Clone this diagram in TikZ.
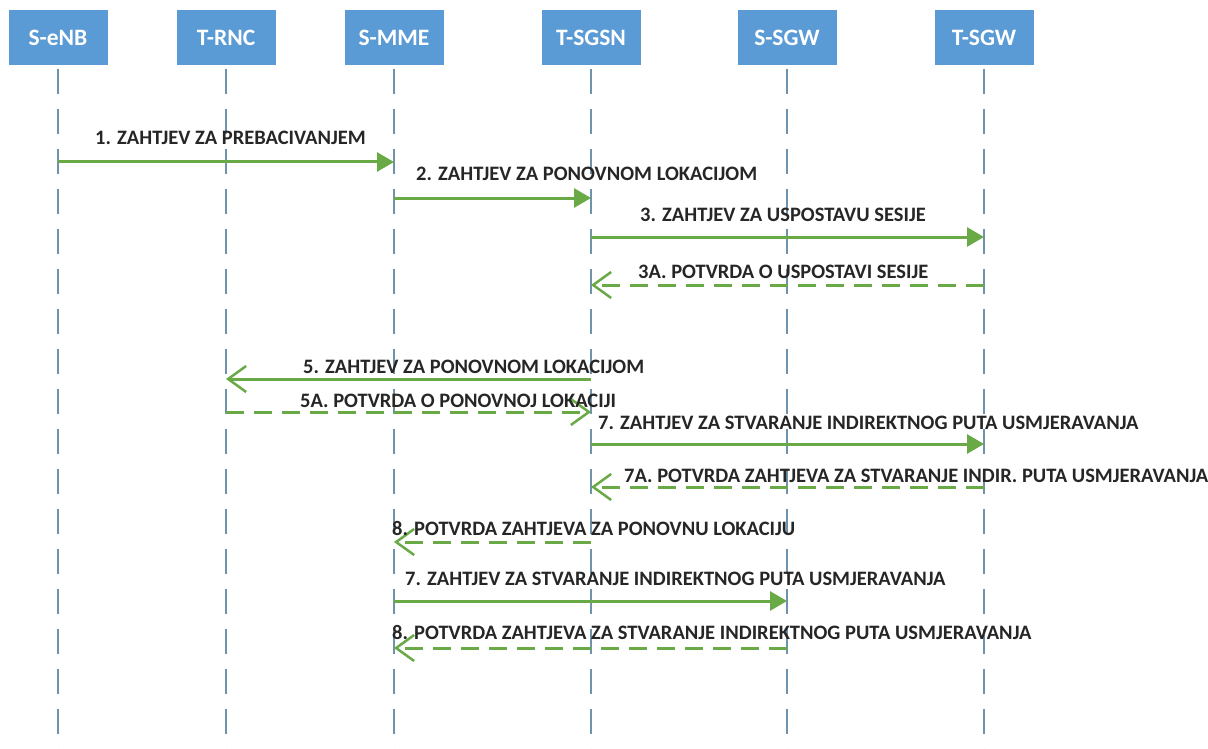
\documentclass[tikz,border=0pt]{standalone}
\usepackage{fontspec}
\setmainfont{Carlito}
\usetikzlibrary{arrows.meta}
\definecolor{boxblue}{HTML}{5B9BD5}
\definecolor{lifeg}{HTML}{6F93AB}
\definecolor{arrg}{HTML}{6AAA46}
\tikzset{
  ent/.style={fill=boxblue, text=white, font=\bfseries\fontsize{23.5}{25}\selectfont, minimum width=99pt, minimum height=55pt, inner sep=0pt},
  life/.style={draw=lifeg, line width=2pt, dash pattern=on 25pt off 15pt},
  req/.style={draw=arrg, line width=3pt, -{Triangle[length=17pt,width=19pt]}},
  reqo/.style={draw=arrg, line width=3pt, -{Straight Barb[length=18pt,width=26pt,line width=2.5pt]}},
  resp/.style={draw=arrg, line width=3pt, dash pattern=on 18pt off 10pt, -{Straight Barb[length=18pt,width=26pt,line width=2.5pt]}},
  lbl/.style={anchor=base west, inner sep=0pt, font=\bfseries\fontsize{20.5}{22}\selectfont, text=black!85}
}
\begin{document}
\begin{tikzpicture}[x=1pt,y=-1pt]
\useasboundingbox (0,0) rectangle (1208,749);
\fill[white] (0,0) rectangle (1208,749);
% entities
\node[ent] (enb) at (58,38) {S-eNB};
\node[ent] (rnc) at (226,38) {T-RNC};
\node[ent] (mme) at (394,38) {S-MME};
\node[ent] (sgsn) at (591,38) {T-SGSN};
\node[ent] (ssgw) at (787,38) {S-SGW};
\node[ent] (tsgw) at (984,38) {T-SGW};
% lifelines
\foreach \n in {enb,rnc,mme,sgsn,ssgw,tsgw}{
  \coordinate (\n-top) at ([yshift=-3pt]\n.south);
  \coordinate (\n-bot) at (\n.south |- 0,749);
  \draw[life] (\n-top) -- (\n-bot);
}
% message points
\coordinate (m1a) at (enb |- 0,162);  \coordinate (m1b) at (mme |- 0,162);
\coordinate (m2a) at (mme |- 0,198);  \coordinate (m2b) at (sgsn |- 0,198);
\coordinate (m3a) at (sgsn |- 0,237); \coordinate (m3b) at (tsgw |- 0,237);
\coordinate (m4a) at (tsgw |- 0,285); \coordinate (m4b) at (sgsn |- 0,285);
\coordinate (m5a) at (sgsn |- 0,379); \coordinate (m5b) at (rnc |- 0,379);
\coordinate (m6a) at (rnc |- 0,412);  \coordinate (m6b) at (sgsn |- 0,412);
\coordinate (m7a) at (sgsn |- 0,444); \coordinate (m7b) at (tsgw |- 0,444);
\coordinate (m8a) at (tsgw |- 0,487); \coordinate (m8b) at (sgsn |- 0,487);
\coordinate (m9a) at (sgsn |- 0,542); \coordinate (m9b) at (mme |- 0,542);
\coordinate (m10a) at (mme |- 0,601); \coordinate (m10b) at (ssgw |- 0,601);
\coordinate (m11a) at (ssgw |- 0,648); \coordinate (m11b) at (mme |- 0,648);
% arrows
\draw[req] (m1a) -- (m1b);
\draw[req] (m2a) -- (m2b);
\draw[req] (m3a) -- (m3b);
\draw[resp] (m4a) -- (m4b);
\draw[reqo] (m5a) -- (m5b);
\draw[resp] (m6a) -- (m6b);
\draw[req] (m7a) -- (m7b);
\draw[resp] (m8a) -- (m8b);
\draw[resp] (m9a) -- (m9b);
\draw[req] (m10a) -- (m10b);
\draw[resp] (m11a) -- (m11b);
% labels
\node[lbl] (l1) at (95,145) {1. ZAHTJEV ZA PREBACIVANJEM};
\node[lbl] (l2) at (416,180) {2. ZAHTJEV ZA PONOVNOM LOKACIJOM};
\node[lbl] (l3) at (640,222) {3. ZAHTJEV ZA USPOSTAVU SESIJE};
\node[lbl] (l4) at (638,278) {3A. POTVRDA O USPOSTAVI SESIJE};
\node[lbl] (l5) at (303,373) {5. ZAHTJEV ZA PONOVNOM LOKACIJOM};
\node[lbl] (l6) at (300,407) {5A. POTVRDA O PONOVNOJ LOKACIJI};
\node[lbl] (l7) at (598,429) {7. ZAHTJEV ZA STVARANJE INDIREKTNOG PUTA USMJERAVANJA};
\node[lbl] (l8) at (624,482) {7A. POTVRDA ZAHTJEVA ZA STVARANJE INDIR. PUTA USMJERAVANJA};
\node[lbl] (l9) at (392,535) {8. POTVRDA ZAHTJEVA ZA PONOVNU LOKACIJU};
\node[lbl] (l10) at (405,585) {7. ZAHTJEV ZA STVARANJE INDIREKTNOG PUTA USMJERAVANJA};
\node[lbl] (l11) at (392,639) {8. POTVRDA ZAHTJEVA ZA STVARANJE INDIREKTNOG PUTA USMJERAVANJA};
\end{tikzpicture}
\end{document}
